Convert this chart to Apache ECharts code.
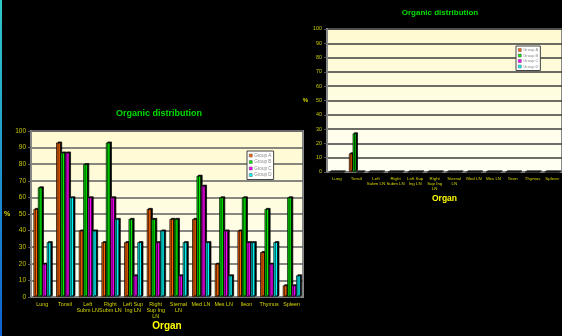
<!DOCTYPE html>
<html>
<head>
<meta charset="utf-8">
<script src="https://cdn.jsdelivr.net/npm/echarts@6/dist/echarts.min.js"></script>
<style>
  html, body { margin: 0; padding: 0; background: #000; }
  #chart { width: 562px; height: 336px; }
</style>
</head>
<body>
<div id="chart"></div>
<script>
// categories on the x axis
var organs = ['Lung', 'Tonsil', 'Left\nSubm LN', 'Right\nSubm LN', 'Left Sup\nIng LN', 'Right\nSup Ing\nLN',
  'Sternal\nLN', 'Med LN', 'Mes LN', 'Ileon', 'Thymus', 'Spleen'];
var groups = ['Group A', 'Group B', 'Group C', 'Group D'];
var yTicks = [0, 10, 20, 30, 40, 50, 60, 70, 80, 90, 100];

// left chart values (%)
var leftA = [53, 93, 40, 33, 33, 53, 47, 47, 20, 40, 27, 7];
var leftB = [66, 87, 80, 93, 47, 47, 47, 73, 60, 60, 53, 60];
var leftC = [20, 87, 60, 60, 13, 33, 13, 67, 40, 33, 20, 7];
var leftD = [33, 60, 40, 47, 33, 40, 33, 33, 13, 33, 33, 13];

// right chart values (%)
var rightA = [0, 13, 0, 0, 0, 0, 0, 0, 0, 0, 0, 0];
var rightB = [0, 27, 0, 0, 0, 0, 0, 0, 0, 0, 0, 0];
var rightC = [0, 0, 0, 0, 0, 0, 0, 0, 0, 0, 0, 0];
var rightD = [0, 0, 0, 0, 0, 0, 0, 0, 0, 0, 0, 0];

var colors = ['#ff6600', '#00ee00', '#ff00ff', '#00ffff'];
var font = 'Arial, "Liberation Sans", sans-serif';

var myChart = echarts.init(document.getElementById('chart'));

function bg() {
  return new echarts.graphic.LinearGradient(0, 0, 0, 1, [
    {offset: 0, color: '#fffad0'},
    {offset: 1, color: '#fffff4'}
  ]);
}

function bars(data, i, grid) {
  return {
    name: groups[i],
    type: 'bar',
    xAxisIndex: grid,
    yAxisIndex: grid,
    barGap: '0%',
    barCategoryGap: grid == 0 ? '22%' : '24%',
    itemStyle: {
      color: colors[i],
      borderColor: '#000',
      borderWidth: 0.7,
      shadowColor: '#000',
      shadowBlur: 0,
      shadowOffsetX: 1.5,
      shadowOffsetY: -1
    },
    data: data
  };
}

function legend(left, top, grid) {
  return {
    left: left, top: top,
    orient: 'vertical',
    data: groups,
    backgroundColor: '#fff',
    borderColor: '#444',
    borderWidth: 1,
    padding: [2, 2],
    itemGap: 1.5,
    itemWidth: 3,
    itemHeight: 3,
    icon: 'rect',
    selectedMode: false,
    itemStyle: { borderColor: '#555', borderWidth: 0.5, shadowColor: 'transparent', shadowOffsetX: 0, shadowOffsetY: 0 },
    textStyle: { color: '#888', fontSize: grid == 0 ? 4.6 : 4, fontFamily: font, padding: [0, 0, 0, -3] }
  };
}

var series = [];
[leftA, leftB, leftC, leftD].forEach(function(d, i) { series.push(bars(d, i, 0)); });
[rightA, rightB, rightC, rightD].forEach(function(d, i) { series.push(bars(d, i, 1)); });

function xAx(grid, fs, lh, gap, nameSize, nameGap) {
  return {
    type: 'category',
    gridIndex: grid,
    data: organs,
    name: 'Organ',
    nameLocation: 'middle',
    nameGap: nameGap,
    nameTextStyle: { color: '#ffff00', fontWeight: 'bold', fontSize: nameSize, fontFamily: font },
    axisLine: { lineStyle: { color: '#888', width: 1.5 } },
    axisTick: { show: false },
    axisLabel: { color: '#d8d800', fontSize: fs, lineHeight: lh, margin: gap, interval: 0, fontFamily: font }
  };
}

function yAx(grid, fs, gap, nameGap, nameSize, lineColor) {
  return {
    type: 'value',
    gridIndex: grid,
    min: 0, max: 100, interval: 10,
    name: '%',
    nameLocation: 'middle',
    nameRotate: 0,
    nameGap: nameGap,
    nameTextStyle: { color: '#d8d800', fontWeight: 'bold', fontSize: nameSize, fontFamily: font },
    axisLine: { show: true, lineStyle: { color: '#888', width: 2 } },
    axisTick: { show: true, length: 3, lineStyle: { color: '#555' } },
    axisLabel: {
      color: '#c8c800', fontSize: fs, margin: gap, fontFamily: font,
      formatter: function(v) { return yTicks.indexOf(v) >= 0 ? String(v) : ''; }
    },
    splitLine: { lineStyle: { color: lineColor, width: 1.6 } }
  };
}

option = {
  backgroundColor: '#000',
  animation: false,
  color: colors,
  title: [
    { text: 'Organic distribution', left: 154, top: 104, textAlign: 'center',
      textStyle: { color: '#00dd00', fontSize: 9, fontWeight: 'bold', fontFamily: font } },
    { text: 'Organic distribution', left: 435, top: 4, textAlign: 'center',
      textStyle: { color: '#00dd00', fontSize: 8, fontWeight: 'bold', fontFamily: font } }
  ],
  legend: [legend(247, 151, 0), legend(516, 46, 1)],
  grid: [
    { left: 31, top: 131, width: 272, height: 166, show: true, backgroundColor: bg(),
      borderColor: '#888', borderWidth: 2 },
    { left: 327, top: 29, width: 236, height: 143, show: true, backgroundColor: bg(),
      borderColor: '#888', borderWidth: 2 }
  ],
  xAxis: [xAx(0, 5.4, 6.3, 4, 10, 24), xAx(1, 4.4, 5, 4, 8.5, 22)],
  yAxis: [yAx(0, 6.5, 5, 20, 7, '#606060'), yAx(1, 5.4, 5, 17, 6, '#3c3c3c')],
  graphic: [{
    type: 'rect',
    shape: { x: 0, y: 0, width: 2, height: 336 },
    style: {
      fill: new echarts.graphic.LinearGradient(0, 0, 0, 1, [
        {offset: 0, color: '#30c8c8'},
        {offset: 1, color: '#1060d0'}
      ])
    }
  }],
  series: series
};
myChart.setOption(option);
</script>
</body>
</html>
